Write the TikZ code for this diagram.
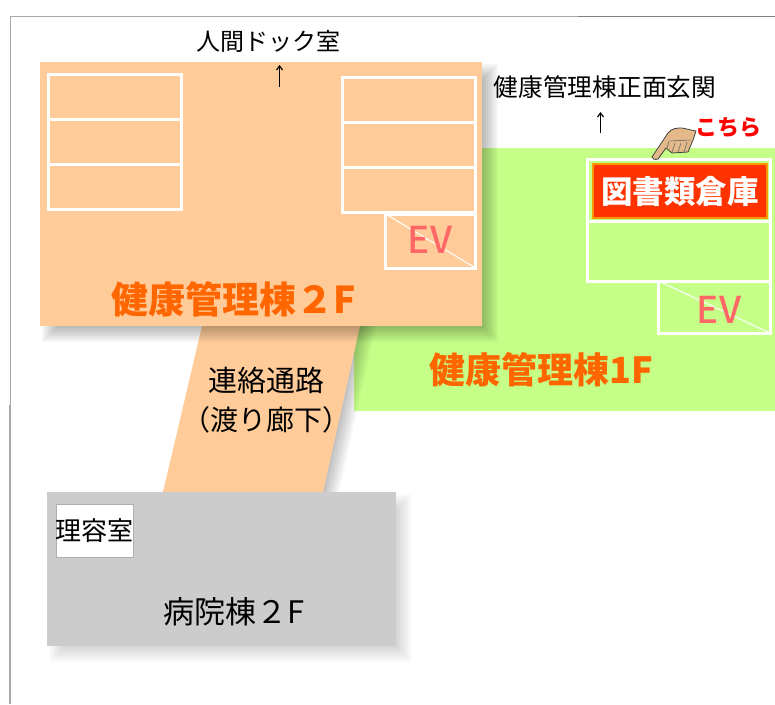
\documentclass[tikz,border=0pt]{standalone}
\usepackage{fontspec}
\setmainfont{Noto Sans CJK JP}
\newfontfamily\evfont{Noto Sans CJK JP Medium}
\usepackage{xcolor}
\usetikzlibrary{arrows.meta}
\definecolor{wingpeach}{RGB}{255, 204, 153}
\definecolor{winggreen}{RGB}{197, 255, 136}
\definecolor{winggray}{RGB}{204, 204, 204}
\definecolor{wingorange}{RGB}{255, 102, 0}
\definecolor{evpink}{RGB}{255, 102, 102}
\definecolor{storered}{RGB}{255, 51, 0}
\definecolor{storeedge}{RGB}{255, 153, 0}
\definecolor{handskin}{RGB}{227, 185, 138}
\definecolor{framegray}{RGB}{130, 130, 130}
\newcommand{\softbox}[5]{
  \foreach \d in {-7,-5,...,7}{
    \fill[black, opacity=#5] ({#1+9+\d},{#2+9+\d}) rectangle ({#3+9-\d},{#4+9-\d});
  }
}
\tikzset{
  floorbox/.style={anchor=north west, inner sep=0pt, outer sep=0pt},
  roombox/.style={floorbox, draw=white, line width=3pt},
  arrowup/.style={-{Straight Barb[length=4pt, width=6pt]}, line width=1.2pt, black},
  evlabel/.style={font=\fontsize{37}{37}\selectfont\evfont, text=evpink, inner sep=0pt},
}
\begin{document}
\begin{tikzpicture}[x=1pt, y=-1pt]
\useasboundingbox (0,0) rectangle (775,704);
\fill[white] (0,0) rectangle (775,704);
% outer frame
\draw[framegray!70, line width=1pt] (10.5,405) -- (10.5,16.5) -- (578,16.5);
\draw[framegray, line width=1.4pt] (578,16.5) -- (775,16.5);
\draw[framegray!70, line width=1.2pt] (10,405) -- (10,704);
% first floor
\node[floorbox, fill=winggreen, minimum width=421pt, minimum height=263pt] (greenwing) at (354,148) {};
% corridor
\foreach \d in {2,4,...,16}{
  \fill[black, opacity=0.03] ({202+\d},326) -- ({360+\d},326) -- ({323+\d},492) -- ({163+\d},492) -- cycle;
}
\fill[wingpeach] (202,326) -- (360,326) -- (323,492) -- (163,492) -- cycle;
% hospital wing
\softbox{47}{492}{396}{646}{0.02}
\node[floorbox, fill=winggray, minimum width=349pt, minimum height=154pt] (hospital) at (47,492) {};
\node[floorbox, fill=white, draw=winggray!85!black, line width=0.5pt, minimum width=77pt, minimum height=53pt] (barber) at (56,504) {};
\node[font=\fontsize{26}{26}\selectfont, inner sep=0pt] at (barber.center) {理容室};
\node[font=\fontsize{31}{31}\selectfont, inner sep=0pt] (hospitallabel) at (234,612) {病院棟２F};
% second floor
\softbox{40}{62}{482}{326}{0.035}
\node[floorbox, fill=wingpeach, minimum width=442pt, minimum height=264pt] (peachwing) at (40,62) {};
\foreach \i/\y in {a/74, b/119, c/164}{
  \node[roombox, minimum width=133pt, minimum height=45.5pt] (left\i) at (48.5,\y) {};
}
\foreach \i/\y in {a/77, b/122, c/167}{
  \node[roombox, minimum width=133pt, minimum height=45.5pt] (right\i) at (342.5,\y) {};
}
\node[roombox, minimum width=90pt, minimum height=54pt] (evupper) at (385.5,214) {};
\draw[white, line width=1pt] (evupper.north west) -- (evupper.south east);
\node[evlabel] at (430,240) {EV};
\node[font=\fontsize{37}{37}\selectfont\bfseries, text=wingorange, inner sep=0pt] (upperlabel) at (234,299) {健康管理棟２F};
% first floor rooms
\node[roombox, minimum width=183pt, minimum height=62pt] (storeroom) at (587.5,159.5) {};
\node[floorbox, fill=storered, draw=storeedge, line width=1.5pt, minimum width=174pt, minimum height=54pt] (store) at (593,164) {};
\node[font=\fontsize{31.5}{31.5}\selectfont\bfseries, text=white, inner sep=0pt] at (store.center) {図書類倉庫};
\node[roombox, minimum width=183pt, minimum height=59.5pt] (lowerroom) at (587.5,221.5) {};
\node[roombox, minimum width=111.5pt, minimum height=52pt] (evlower) at (658.5,281) {};
\draw[white, line width=1pt] (evlower.north west) -- (evlower.south east);
\node[evlabel] at (719,310) {EV};
\node[font=\fontsize{36}{36}\selectfont\bfseries, text=wingorange, inner sep=0pt] (lowerlabel) at (541,370) {健康管理棟1F};
% labels
\node[font=\fontsize{29}{29}\selectfont, inner sep=0pt] (corridorone) at (266,380) {連絡通路};
\node[font=\fontsize{28}{28}\selectfont, inner sep=0pt] (corridortwo) at (266,420) {（渡り廊下）};
\node[font=\fontsize{24}{24}\selectfont, inner sep=0pt] (dock) at (268,41) {人間ドック室};
\node[font=\fontsize{24.7}{24.7}\selectfont, inner sep=0pt] (entrance) at (605,87) {健康管理棟正面玄関};
\coordinate (docktail) at (279.5,87);
\coordinate (dockhead) at (279.5,65);
\draw[arrowup] (docktail) -- (dockhead);
\coordinate (entrancetail) at (600.5,133);
\coordinate (entrancehead) at (600.5,112);
\draw[arrowup] (entrancetail) -- (entrancehead);
% pointing hand
\filldraw[fill=handskin, draw=black!75, line width=0.8pt, line join=round]
  (652,157) -- (668,133) .. controls (672,128) and (677,128) .. (682,128) -- (696,131)
  -- (693,140) -- (688,152) -- (672,153) -- (666,148) -- (658,159) .. controls (655,160) and (652,159) .. (652,157) -- cycle;
\draw[black!60, line width=0.6pt] (669,141) -- (667,148) (675,143) -- (672,152) (681,143) -- (678,152) (687,142) -- (684,152) (670,141) -- (690,140);
\node[font=\fontsize{22}{22}\selectfont\bfseries, text=red, inner sep=0pt] (here) at (728,128) {こちら};
\end{tikzpicture}
\end{document}
